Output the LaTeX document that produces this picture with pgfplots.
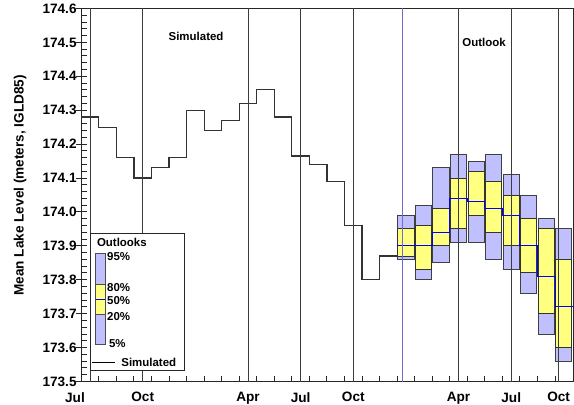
\documentclass[border=0pt]{standalone}
\usepackage{fontspec}
\setmainfont{Liberation Sans}
\usepackage{pgfplots}
\usepackage{pgfplotstable}
\pgfplotsset{compat=1.18}
\usetikzlibrary{calc}

\definecolor{olpurple}{RGB}{192,192,255}
\definecolor{olyellow}{RGB}{255,255,128}
\definecolor{olblue}{RGB}{110,110,200}
\definecolor{gridc}{RGB}{60,60,60}

% simulated monthly levels (month 0 = Jul), last point joins the first outlook median
\pgfplotstableread{
m lev
0 174.28
1 174.25
2 174.16
3 174.10
4 174.13
5 174.16
6 174.30
7 174.24
8 174.27
9 174.32
10 174.36
11 174.28
12 174.165
13 174.14
14 174.09
15 173.96
16 173.80
17 173.87
18 173.90
}\simulated

% outlook percentiles per month
\pgfplotstableread{
m p5 p20 p80 p95
18 173.86 173.87 173.95 173.99
19 173.80 173.83 173.96 174.02
20 173.85 173.90 174.01 174.13
21 173.91 173.95 174.10 174.17
22 173.91 173.99 174.12 174.15
23 173.86 173.94 174.09 174.17
24 173.83 173.90 174.05 174.11
25 173.76 173.82 173.98 174.05
26 173.64 173.70 173.95 173.98
27 173.56 173.60 173.86 173.95
}\outlook

\begin{document}
\begin{tikzpicture}[font=\bfseries]
\def\smallf{\fontsize{8.6}{10}\selectfont\bfseries}
\def\tickf{\fontsize{10.2}{12}\selectfont\bfseries}
\begin{axis}[
    name=ax,
    scale only axis,
    width=369.15pt, height=279.75pt,
    xmin=0, xmax=28.05,
    ymin=173.5, ymax=174.6,
    axis line style={black!85, line width=1pt},
    tick pos=left,
    xtick={3.5,9.5,12.5,15.5,21.5,24.5,27.2},
    xticklabels={Oct,Apr,Jul,Oct,Apr,Jul,Oct},
    major x tick style={draw=none},
    minor xtick={1,2,...,27},
    ytick={173.5,173.6,173.7,173.8,173.9,174.0,174.1,174.2,174.3,174.4,174.5,174.6},
    minor y tick num=4,
    tick align=inside,
    major tick length=4.5pt, minor tick length=4.5pt,
    tick style={black!85, line width=0.75pt},
    extra y ticks={173.5,173.6,173.7,173.8,173.9,174.0,174.1,174.2,174.3,174.4,174.5,174.6},
    extra y tick labels={},
    extra y tick style={ytick align=outside, major tick length=3.75pt},
    yticklabel style={font=\tickf, /pgf/number format/.cd, fixed, fixed zerofill, precision=1, 1000 sep={}, assume math mode=true},
    xticklabel style={font=\tickf, yshift=-4.5pt},
    ylabel={Mean Lake Level (meters, IGLD85)},
    ylabel style={font=\tickf, at={(rel axis cs:-0.1245,0.526)}, anchor=center},
    clip=false,
]
% simulated step line
\addplot[const plot, black!80, line width=0.9pt] table[x=m, y=lev] {\simulated};

% outlook boxes: 5-95% purple, 20-80% yellow
\pgfplotsinvokeforeach{0,...,9}{
    \pgfplotstablegetelem{#1}{m}\of\outlook
    \pgfmathsetmacro\xa{\pgfplotsretval+0.04}
    \pgfmathsetmacro\xb{\pgfplotsretval+0.96}
    \pgfplotstablegetelem{#1}{p5}\of\outlook \let\pa\pgfplotsretval
    \pgfplotstablegetelem{#1}{p20}\of\outlook \let\pb\pgfplotsretval
    \pgfplotstablegetelem{#1}{p80}\of\outlook \let\pc\pgfplotsretval
    \pgfplotstablegetelem{#1}{p95}\of\outlook \let\pd\pgfplotsretval
    \edef\tmp{\noexpand\draw[fill=olpurple, draw=black!75, line width=0.75pt]
        (axis cs:\xa,\pa) rectangle (axis cs:\xb,\pd);
      \noexpand\draw[fill=olyellow, draw=black!80, line width=0.75pt]
        (axis cs:\xa,\pb) rectangle (axis cs:\xb,\pc);}
    \tmp
}

% outlook median
\addplot[const plot, blue, line width=0.75pt] coordinates {
    (18,173.90) (19,173.90) (20,173.94) (21,174.04) (22,174.03)
    (23,174.01) (24,173.99) (25,173.90) (26,173.81) (27,173.72) (28,173.72)};

% month markers
\pgfplotsinvokeforeach{0.55,3.5,9.5,12.5,15.5,21.5,24.5,27.2}{
    \draw[gridc, line width=0.75pt] (axis cs:#1,173.5) -- (axis cs:#1,174.6);
}
\addplot[olblue, line width=0.9pt] coordinates {(18.31,173.5) (18.31,174.6)};

\node[font=\smallf] at (axis cs:6.54,174.517) {Simulated};
\node[font=\smallf] at (axis cs:22.95,174.50) {Outlook};
\node[font=\tickf, anchor=north, inner sep=0pt] at (axis cs:-0.36,173.467) {Jul};

% legend
\draw[fill=white, draw=black!85, line width=0.75pt] (axis cs:0.536,173.531) rectangle (axis cs:5.87,173.937);
\node[font=\smallf, anchor=west, inner sep=0pt] at (axis cs:0.88,173.910) {Outlooks};
\draw[fill=olpurple, draw=black!70, line width=0.6pt] (axis cs:0.82,173.610) rectangle (axis cs:1.35,173.878);
\draw[fill=olyellow, draw=black!70, line width=0.6pt] (axis cs:0.82,173.698) rectangle (axis cs:1.35,173.787);
\draw[blue, line width=0.6pt] (axis cs:0.82,173.741) -- (axis cs:1.35,173.741);
\node[font=\smallf, anchor=west, inner sep=0pt] at (axis cs:1.46,173.868) {95\%};
\node[font=\smallf, anchor=west, inner sep=0pt] at (axis cs:1.46,173.778) {80\%};
\node[font=\smallf, anchor=west, inner sep=0pt] at (axis cs:1.46,173.738) {50\%};
\node[font=\smallf, anchor=west, inner sep=0pt] at (axis cs:1.46,173.691) {20\%};
\node[font=\smallf, anchor=west, inner sep=0pt] at (axis cs:1.57,173.613) {5\%};
\draw[black, line width=0.75pt] (axis cs:0.61,173.557) -- (axis cs:1.92,173.557);
\node[font=\smallf, anchor=west, inner sep=0pt] at (axis cs:2.27,173.557) {Simulated};
\end{axis}
\pgfresetboundingbox
\path[use as bounding box] ($(ax.south west)+(-60.975pt,-16.875pt)$) rectangle ($(ax.north east)+(0.375pt,6.375pt)$);
\end{tikzpicture}
\end{document}
